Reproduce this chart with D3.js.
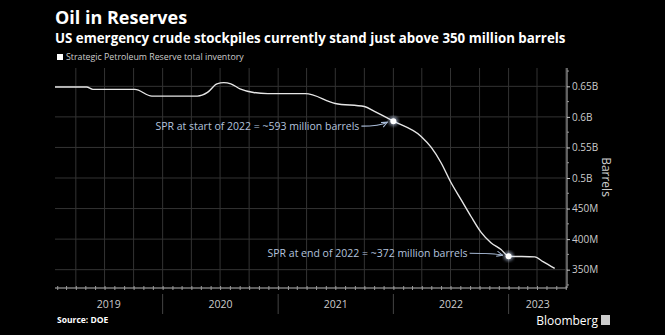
<html lang="en">
<head>
    <meta charset="UTF-8">
    <title>Oil in Reserves</title>
    <style>
        body { margin: 0; background: #000; }
        text { font-family: "Open Sans", "DejaVu Sans", sans-serif; }
    </style>
</head>
<body>
    <div id="graph"></div>
    <script src="https://d3js.org/d3.v7.min.js"></script>
    <script>
        // data (million barrels)
        var dates = ["2019-01-25", "2019-05-05", "2019-05-25", "2019-10-05", "2019-11-28",
                     "2020-04-20", "2020-05-22", "2020-06-21", "2020-07-13", "2020-08-04",
                     "2020-09-02", "2020-10-15", "2020-11-29", "2021-03-28", "2021-07-01",
                     "2021-10-01", "2021-11-02", "2022-01-01", "2022-03-30", "2022-05-01",
                     "2022-06-01", "2022-07-02", "2022-08-03", "2022-09-04", "2022-10-06",
                     "2022-11-06", "2022-12-08", "2023-01-01", "2023-03-25", "2023-04-20",
                     "2023-05-27"];
        var values = [649, 649, 645, 645, 634,
                      634, 640, 654, 656, 654,
                      646, 640, 638, 638, 622,
                      617, 609, 593, 568, 550,
                      525, 493, 465, 437, 411,
                      394, 383, 372, 371, 363,
                      352];
        var annotations = [
            { date: "2022-01-01", value: 593, label: "SPR at start of 2022 = ~593 million barrels" },
            { date: "2023-01-01", value: 372, label: "SPR at end of 2022 = ~372 million barrels" }
        ];
        var yTicks = [350, 400, 450, 500, 550, 600, 650];
        var yTickLabels = ["350M", "400M", "450M", "0.5B", "0.55B", "0.6B", "0.65B"];
        var years = [2019, 2020, 2021, 2022, 2023];

        var W = 665, H = 335;
        var pLeft = 55, pRight = 567, pTop = 68, pBottom = 288;
        var parse = d3.timeParse("%Y-%m-%d");

        var x = d3.scaleTime()
            .domain([parse("2019-01-25"), parse("2023-07-05")])
            .range([pLeft, pRight]);
        var y = d3.scaleLinear().domain([320, 680]).range([pBottom, pTop]);

        var svg = d3.select("#graph").append("svg")
            .attr("width", W).attr("height", H)
            .style("background", "#000");

        // titles
        svg.append("text").attr("x", 55).attr("y", 24)
            .attr("fill", "#fff").attr("font-size", 18).attr("font-weight", "bold")
            .text("Oil in Reserves");
        svg.append("text").attr("x", 55).attr("y", 43)
            .attr("fill", "#fff").attr("font-size", 13.3).attr("font-weight", "bold")
            .text("US emergency crude stockpiles currently stand just above 350 million barrels");
        svg.append("rect").attr("x", 57).attr("y", 54).attr("width", 6).attr("height", 6).attr("fill", "#fff");
        svg.append("text").attr("x", 66).attr("y", 60)
            .attr("fill", "#ccc").attr("font-size", 8.8)
            .text("Strategic Petroleum Reserve total inventory");

        // grid
        var quarters = d3.timeMonth.every(3).range(x.domain()[0], x.domain()[1]);
        svg.append("g").selectAll("line").data(quarters).enter().append("line")
            .attr("x1", function(d) { return x(d); }).attr("x2", function(d) { return x(d); })
            .attr("y1", pTop).attr("y2", pBottom)
            .attr("stroke", "#333").attr("stroke-width", 1);
        svg.append("g").selectAll("line").data(yTicks).enter().append("line")
            .attr("x1", pLeft).attr("x2", pRight)
            .attr("y1", function(d) { return y(d); }).attr("y2", function(d) { return y(d); })
            .attr("stroke", "#333").attr("stroke-width", 1);

        // right axis
        var yAxis = svg.append("g")
            .attr("transform", "translate(" + pRight + ",0)")
            .call(d3.axisRight(y).tickValues(yTicks).tickSize(3).tickPadding(2)
                .tickFormat(function(d, i) { return yTickLabels[i]; }));
        yAxis.append("g").selectAll("line").data(d3.range(325, 680, 50)).enter().append("line")
            .attr("x1", 0).attr("x2", 2)
            .attr("y1", function(d) { return y(d); }).attr("y2", function(d) { return y(d); })
            .attr("stroke", "#999");
        yAxis.select(".domain").attr("stroke", "#bbb").attr("d", "M0," + pTop + "V" + pBottom);
        yAxis.selectAll(".tick line").attr("stroke", "#ccc");
        yAxis.selectAll("text").attr("fill", "#ccc").attr("font-size", 10)
            .attr("font-family", "\"Open Sans\", sans-serif");
        svg.append("text")
            .attr("transform", "translate(602,177) rotate(90)")
            .attr("text-anchor", "middle").attr("fill", "#ccc").attr("font-size", 12)
            .text("Barrels");

        // bottom axis
        var months = d3.timeMonth.range(x.domain()[0], x.domain()[1]);
        var xAxis = svg.append("g")
            .attr("transform", "translate(0," + pBottom + ")")
            .call(d3.axisBottom(x).tickValues(months).tickSize(2).tickFormat(""));
        xAxis.select(".domain").attr("stroke", "#bbb").attr("d", "M" + pLeft + ",0H" + pRight);
        xAxis.selectAll(".tick line").attr("stroke", "#999").attr("y1", -2);

        var yearStarts = years.slice(1).map(function(d) { return new Date(d, 0, 1); });
        svg.append("g").selectAll("line").data(yearStarts).enter().append("line")
            .attr("x1", function(d) { return x(d); }).attr("x2", function(d) { return x(d); })
            .attr("y1", 294).attr("y2", 314)
            .attr("stroke", "#444");
        svg.append("g").selectAll("text").data(years).enter().append("text")
            .attr("x", function(d) {
                var a = Math.max(x(new Date(d, 0, 1)), pLeft);
                var b = Math.min(x(new Date(d + 1, 0, 1)), pRight);
                return (a + b) / 2;
            })
            .attr("y", 308).attr("text-anchor", "middle")
            .attr("fill", "#ccc").attr("font-size", 10.5)
            .text(function(d) { return d; });

        // line
        var data = dates.map(function(d, i) { return { date: parse(d), value: values[i] }; });
        svg.append("path").datum(data)
            .attr("fill", "none").attr("stroke", "#e6e6e6").attr("stroke-width", 1.4)
            .attr("d", d3.line()
                .x(function(d) { return x(d.date); })
                .y(function(d) { return y(d.value); })
                .curve(d3.curveMonotoneX));

        // annotations
        var defs = svg.append("defs");
        defs.append("marker").attr("id", "arrow")
            .attr("viewBox", "0 0 10 10").attr("refX", 9).attr("refY", 5)
            .attr("markerWidth", 6).attr("markerHeight", 6).attr("orient", "auto")
            .append("path").attr("d", "M0,1L9,5L0,9").attr("fill", "none")
            .attr("stroke", "#a9bcd8").attr("stroke-width", 1.5);
        var glow = defs.append("filter").attr("id", "glow");
        glow.append("feGaussianBlur").attr("stdDeviation", 1.5);

        annotations.forEach(function(a, i) {
            var px = x(parse(a.date)), py = y(a.value);
            var tx = i === 0 ? px - 34 : px - 41;
            var ty = i === 0 ? py + 5 : py - 3;
            svg.append("text").attr("x", tx).attr("y", ty + 4)
                .attr("text-anchor", "end").attr("fill", "#b3c3de").attr("font-size", 10.5)
                .text(a.label);
            svg.append("path")
                .attr("d", "M" + (tx + 2) + "," + ty + "Q" + (px - 14) + "," + ty + " " + (px - 6) + "," + (py + (i === 0 ? 1 : -1)))
                .attr("fill", "none").attr("stroke", "#a9bcd8").attr("stroke-width", 1.1)
                .attr("marker-end", "url(#arrow)");
            svg.append("circle").attr("cx", px).attr("cy", py).attr("r", 5)
                .attr("fill", "#cfe0ff").attr("opacity", 0.5).attr("filter", "url(#glow)");
            svg.append("circle").attr("cx", px).attr("cy", py).attr("r", 3)
                .attr("fill", "#fff");
        });

        // footer
        svg.append("text").attr("x", 57).attr("y", 323)
            .attr("fill", "#fff").attr("font-size", 8.5).attr("font-weight", "bold")
            .text("Source: DOE");
        svg.append("text").attr("x", 598).attr("y", 325).attr("text-anchor", "end")
            .attr("fill", "#fff").attr("font-size", 12)
            .text("Bloomberg");
        svg.append("rect").attr("x", 601).attr("y", 315).attr("width", 9).attr("height", 10)
            .attr("fill", "#ccc");
    </script>
</body>
</html>
